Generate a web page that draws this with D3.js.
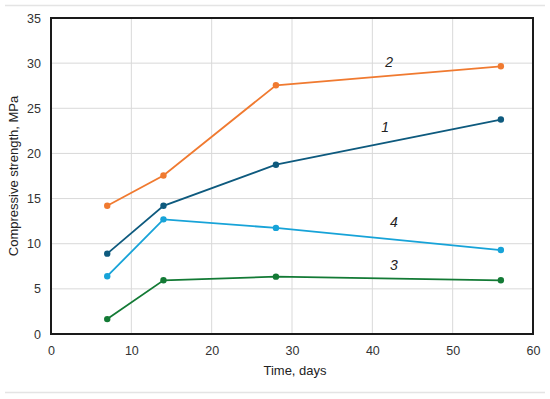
<!DOCTYPE html>
<html><head><meta charset="utf-8">
<script src="https://cdn.jsdelivr.net/npm/d3@7/dist/d3.min.js"></script>
<style>body{margin:0;background:#fff}svg{display:block}</style>
</head><body>
<svg id="c" width="550" height="399"></svg>
<script>
const days = [7, 14, 28, 56];
const series1 = [8.9, 14.2, 18.75, 23.75];
const series2 = [14.2, 17.55, 27.55, 29.65];
const series3 = [1.65, 5.95, 6.35, 5.95];
const series4 = [6.4, 12.7, 11.75, 9.3];
const seriesNames = ["1", "2", "3", "4"];
const seriesColors = ["#0e5a7e", "#f07a30", "#137a35", "#17a3d8"];
const labelPos = [[41.6, 22.8], [42.1, 30.0], [42.7, 7.5], [42.7, 12.3]];
const xTicks = [0, 10, 20, 30, 40, 50, 60];
const yTicks = [0, 5, 10, 15, 20, 25, 30, 35];

const svg = d3.select("#c");
const m = {l: 51, r: 533, t: 18, b: 334};
const x = d3.scaleLinear().domain([0, 60]).range([m.l, m.r]);
const y = d3.scaleLinear().domain([0, 35]).range([m.b, m.t]);

// page rules
svg.append("line").attr("x1", 5).attr("x2", 545).attr("y1", 5.5).attr("y2", 5.5).attr("stroke", "#e4e4e4").attr("stroke-width", 1.5);
svg.append("line").attr("x1", 5).attr("x2", 545).attr("y1", 392.5).attr("y2", 392.5).attr("stroke", "#e4e4e4").attr("stroke-width", 1.5);

// grid
const g = svg.append("g");
g.selectAll(".gx").data(xTicks.slice(1, -1)).join("line")
  .attr("x1", d => x(d)).attr("x2", d => x(d)).attr("y1", m.t).attr("y2", m.b)
  .attr("stroke", "#d9d9d9").attr("stroke-width", 1);
g.selectAll(".gy").data(yTicks.slice(1, -1)).join("line")
  .attr("y1", d => y(d)).attr("y2", d => y(d)).attr("x1", m.l).attr("x2", m.r)
  .attr("stroke", "#d9d9d9").attr("stroke-width", 1);

// frame
svg.append("rect").attr("x", m.l).attr("y", m.t).attr("width", m.r - m.l).attr("height", m.b - m.t)
  .attr("fill", "none").attr("stroke", "#1a1a1a").attr("stroke-width", 2);

// axes
const xAxis = svg.append("g").attr("transform", `translate(0,${m.b})`)
  .call(d3.axisBottom(x).tickValues(xTicks).tickSize(0).tickPadding(12));
const yAxis = svg.append("g").attr("transform", `translate(${m.l},0)`)
  .call(d3.axisLeft(y).tickValues(yTicks).tickSize(0).tickPadding(10));
[xAxis, yAxis].forEach(a => {
  a.select(".domain").remove();
  a.selectAll("text").attr("font-family", "Liberation Sans, Arial, sans-serif").attr("font-size", 12.5).attr("fill", "#333");
});

svg.append("text").attr("x", x(30) + 3).attr("y", 375).attr("text-anchor", "middle")
  .attr("font-family", "Liberation Sans, Arial, sans-serif").attr("font-size", 13).attr("fill", "#222").text("Time, days");
svg.append("text").attr("transform", `translate(18,${(m.t + m.b) / 2}) rotate(-90)`).attr("text-anchor", "middle")
  .attr("font-family", "Liberation Sans, Arial, sans-serif").attr("font-size", 13).attr("fill", "#222").text("Compressive strength, MPa");

const all = [series1, series2, series3, series4];
const line = d3.line().x((d, i) => x(days[i])).y(d => y(d));
all.forEach((s, k) => {
  svg.append("path").datum(s).attr("d", line).attr("fill", "none")
    .attr("stroke", seriesColors[k]).attr("stroke-width", 1.8);
  svg.selectAll(null).data(s).join("circle")
    .attr("cx", (d, i) => x(days[i])).attr("cy", d => y(d)).attr("r", 3.2)
    .attr("fill", seriesColors[k]);
  svg.append("text").attr("x", x(labelPos[k][0])).attr("y", y(labelPos[k][1]))
    .attr("text-anchor", "middle").attr("dominant-baseline", "middle")
    .attr("font-family", "Liberation Sans, Arial, sans-serif").attr("font-size", 14)
    .attr("font-style", "italic").attr("fill", "#222").text(seriesNames[k]);
});
</script>
</body></html>
